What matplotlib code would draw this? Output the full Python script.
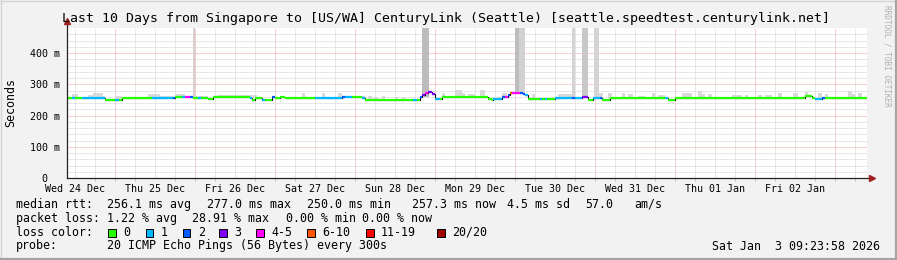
import matplotlib.pyplot as plt
import numpy as np
from matplotlib.patches import Rectangle
from matplotlib.lines import Line2D

# time axis: hours since Wed 24 Dec 00:00
t_first = 9.7
t_last = 249.7

# median rtt (ms) per step, with the loss class of each step
seg_start = [9.7, 11.2, 12.1, 14.2, 20.2, 21.1, 24.1, 25.3, 26.2, 35.2,
             41.5, 42.1, 44.2, 45.1, 46.6, 47.5, 49.0, 49.9, 52.0, 53.5,
             64.6, 65.2, 66.1, 68.2, 69.1, 71.2, 72.1, 73.6, 75.1, 84.1,
             92.2, 93.1, 95.2, 98.2, 99.1, 113.5, 114.7, 115.6, 116.2, 117.1,
             118.0, 119.2, 120.1, 121.6, 122.2, 136.0, 137.2, 137.5, 140.2, 141.1,
             142.0, 142.6, 143.2, 145.6, 146.5, 147.1, 148.0, 151.6, 152.2, 153.1,
             153.7, 156.1, 161.2, 162.1, 164.2, 166.0, 167.5, 169.6, 170.2, 172.6,
             189.1, 190.0, 192.1, 231.1, 233.2, 234.1, 236.2, 237.1]
seg_median = [255, 255, 255, 255, 257, 251, 251, 251, 255, 255,
              256, 258, 258, 258, 258, 255, 255, 255, 253, 260,
              257, 249, 257, 251, 251, 258, 255, 258, 255, 255,
              258, 258, 258, 255, 251, 251, 251, 258, 265, 271,
              274, 270, 253, 253, 260, 253, 249, 253, 258, 258,
              265, 271, 273, 271, 268, 265, 253, 253, 253, 253,
              253, 255, 255, 255, 258, 250, 255, 255, 250, 257,
              257, 250, 257, 264, 255, 253, 257, 257]
seg_loss = [0, 1, 0, 1, 1, 0, 1, 0, 0, 1,
            2, 0, 1, 4, 2, 0, 1, 0, 0, 0,
            1, 0, 0, 1, 0, 2, 0, 0, 0, 1,
            2, 1, 0, 1, 0, 1, 0, 2, 3, 4,
            3, 3, 1, 0, 0, 0, 0, 1, 2, 4,
            2, 5, 4, 2, 2, 1, 0, 1, 0, 1,
            0, 1, 2, 1, 3, 0, 1, 2, 0, 0,
            1, 0, 0, 0, 0, 1, 2, 0]

# smoke above the median: start, end (hours), top (ms)
smoke_start = [11.2, 16.0, 17.5, 20.5, 24.1, 34.0, 37.6, 42.1, 48.1, 54.7,
               64.6, 73.6, 80.2, 86.2, 91.0, 92.5, 97.6, 100.0, 101.5, 104.2,
               108.1, 110.2, 122.2, 126.1, 128.2, 130.0, 133.6, 140.2, 149.2, 157.0,
               158.2, 169.0, 172.0, 176.2, 178.0, 181.0, 185.2, 187.0, 194.2, 199.0,
               200.2, 202.0, 209.2, 213.1, 217.0, 219.1, 223.0, 227.5, 231.1, 235.0,
               237.1, 244.0, 245.2, 247.0]
smoke_end = [13.0, 17.5, 20.5, 21.1, 26.2, 37.6, 41.5, 45.1, 52.0, 64.6,
             66.7, 75.1, 81.1, 87.1, 92.2, 94.6, 99.1, 101.2, 103.0, 105.1,
             109.0, 111.1, 123.1, 128.2, 129.1, 132.1, 135.1, 141.7, 150.1, 158.2,
             161.2, 170.5, 173.2, 177.1, 179.5, 183.1, 186.1, 189.1, 197.2, 200.2,
             201.1, 203.2, 212.2, 214.0, 218.2, 221.2, 224.2, 229.0, 232.0, 236.2,
             238.0, 245.2, 246.1, 248.2]
smoke_top = [269, 266, 271, 263, 264, 269, 264, 269, 262, 266,
             267, 263, 273, 273, 273, 262, 262, 263, 260, 263,
             260, 260, 271, 282, 271, 269, 282, 271, 269, 269,
             268, 271, 271, 271, 268, 262, 273, 266, 273, 279,
             269, 269, 266, 266, 266, 266, 273, 271, 276, 271,
             269, 279, 269, 273]

# tall smoke spikes reaching past the top of the graph
spike_start = [47.5, 116.1, 144.1, 145.3, 161.2, 164.2, 167.8]
spike_end = [48.1, 118.3, 145.3, 147.1, 162.1, 166.0, 169.3]
spike_shade = ['#d6cfcf', '#bcbcbc', '#bdbdbd', '#d2d2d2', '#d4d4d4', '#c8c8c8', '#d4d4d4']

day_pos = [12, 36, 60, 84, 108, 132, 156, 180, 204, 228]
day_labels = ['Wed 24 Dec', 'Thu 25 Dec', 'Fri 26 Dec', 'Sat 27 Dec', 'Sun 28 Dec',
              'Mon 29 Dec', 'Tue 30 Dec', 'Wed 31 Dec', 'Thu 01 Jan', 'Fri 02 Jan']
y_ticks = [0, 100, 200, 300, 400]
y_labels = ['0  ', '100 m', '200 m', '300 m', '400 m']

loss_labels = ['0', '1', '2', '3', '4-5', '6-10', '11-19', '20/20']
loss_colors = ['#26ff00', '#00b8ff', '#0059ff', '#7e00ff', '#ff00ff', '#ff5500', '#ff0000', '#a00000']

title = 'Last 10 Days from Singapore to [US/WA] CenturyLink (Seattle) [seattle.speedtest.centurylink.net]'
mono = 'DejaVu Sans Mono'

W, H = 897, 260


def fx(x):
    return x / W


def fy(y):
    return 1 - y / H


fig = plt.figure(figsize=(W / 100, H / 100), dpi=100, facecolor='#f2f2f2')

# shaded frame round the image
fig.add_artist(Line2D([fx(0.5), fx(896)], [fy(0.5), fy(0.5)], color='#d4d4d4', lw=1))
fig.add_artist(Line2D([fx(0.5), fx(0.5)], [fy(0), fy(259)], color='#d4d4d4', lw=1))
fig.add_artist(Line2D([fx(0), fx(897)], [fy(258.5), fy(258.5)], color='#a4a4a4', lw=1.6))
fig.add_artist(Line2D([fx(895.7), fx(895.7)], [fy(0), fy(260)], color='#a4a4a4', lw=1.6))

ax = fig.add_axes([fx(67), fy(178), fx(867) - fx(67), fy(28) - fy(178)])
ax.set_facecolor('white')
ax.set_xlim(t_first, t_last)
ax.set_ylim(0, 480)
for s in ax.spines.values():
    s.set_visible(False)

# grid
for h in range(12, 250, 6):
    col = '#f2a0a0' if h % 24 == 0 else '#d0d0d0'
    ax.axvline(h, color=col, lw=0.72, ls=(0, (1, 1)), zorder=0)
for v in range(20, 480, 20):
    col = '#f2a0a0' if v % 100 == 0 else '#d0d0d0'
    ax.axhline(v, color=col, lw=0.72, ls=(0, (1, 1)), zorder=0)

# smoke
idx = np.searchsorted(seg_start, smoke_start, side='right') - 1
base = np.array(seg_median)[idx]
ax.bar(smoke_start, np.array(smoke_top) - base, bottom=base,
       width=np.array(smoke_end) - np.array(smoke_start), align='edge',
       color='#d9d9d9', lw=0, zorder=1)
idx = np.searchsorted(seg_start, spike_start, side='right') - 1
base = np.array(seg_median)[idx]
ax.bar(spike_start, 500 - base, bottom=base,
       width=np.array(spike_end) - np.array(spike_start), align='edge',
       color=spike_shade, lw=0, zorder=1)

# median line coloured by loss
edges = seg_start + [t_last]
ax.step(edges, seg_median + [seg_median[-1]], where='post', color='#111111', lw=0.8, zorder=3)
ax.hlines(seg_median, seg_start, edges[1:], colors=[loss_colors[i] for i in seg_loss],
          lw=1.6, zorder=4)

# axes
ax.set_xticks(day_pos, day_labels, fontsize=7.2, family=mono)
ax.set_xticks(list(range(12, 250, 6)), minor=True)
ax.tick_params(axis='x', which='major', length=0, pad=4)
ax.tick_params(axis='x', which='minor', length=2, color='#c0c0c0', width=0.7)
ax.set_yticks(y_ticks, y_labels, fontsize=7.2, family=mono)
ax.tick_params(axis='y', length=0, pad=5)
ax.plot([0, 1.006], [0, 0], transform=ax.transAxes, color='#222222', lw=0.9, clip_on=False, zorder=5)
ax.plot([0, 0], [0, 1.045], transform=ax.transAxes, color='#222222', lw=0.9, clip_on=False, zorder=5)
ax.plot([1.006], [0], transform=ax.transAxes, marker='>', ms=4, color='#a02020', clip_on=False, zorder=6)
ax.plot([0], [1.045], transform=ax.transAxes, marker='^', ms=4, color='#a02020', clip_on=False, zorder=6)

fig.text(fx(446), fy(18.5), title, ha='center', va='center', fontsize=9.5, family=mono)
fig.text(fx(11), fy(103), 'Seconds', rotation=90, ha='center', va='center', fontsize=8.4, family=mono)
fig.text(fx(887), fy(5), 'RRDTOOL / TOBI OETIKER', rotation=270, ha='center', va='top',
         fontsize=5.6, family=mono, color='#b0b0b0')

# legend rows
rows = [
    (204.3, [(16, 'median rtt:'), (107.3, '256.1 ms avg'), (207.3, '277.0 ms max'),
             (306.7, '250.0 ms min'), (412.3, '257.3 ms now'), (506.7, '4.5 ms sd'),
             (585.7, '57.0'), (634.3, 'am/s')]),
    (218.3, [(16, 'packet loss:'), (107.3, '1.22 % avg'), (191.7, '28.91 % max'),
             (285.7, '0.00 % min'), (362.3, '0.00 % now')]),
    (232.3, [(16, 'loss color:')]),
    (246.0, [(16, 'probe:'), (107.3, '20 ICMP Echo Pings (56 Bytes) every 300s')]),
]
for y, items in rows:
    for x, s in items:
        fig.text(fx(x), fy(y), s, ha='left', va='center', fontsize=8.4, family=mono)
fig.text(fx(880), fy(246), 'Sat Jan  3 09:23:58 2026', ha='right', va='center',
         fontsize=8.4, family=mono)

box_x = [108.3, 145.7, 182.7, 219.3, 256.0, 307.3, 366.0, 437.0]
for bx, lab, col in zip(box_x, loss_labels, loss_colors):
    fig.add_artist(Rectangle((fx(bx), fy(236.5)), 7.5 / W, 7.5 / H, facecolor=col,
                             edgecolor='black', lw=0.7, transform=fig.transFigure))
    fig.text(fx(bx + 15), fy(232.3), lab, ha='left', va='center', fontsize=8.4, family=mono)

fig.savefig('out.png', dpi=100, facecolor=fig.get_facecolor())
